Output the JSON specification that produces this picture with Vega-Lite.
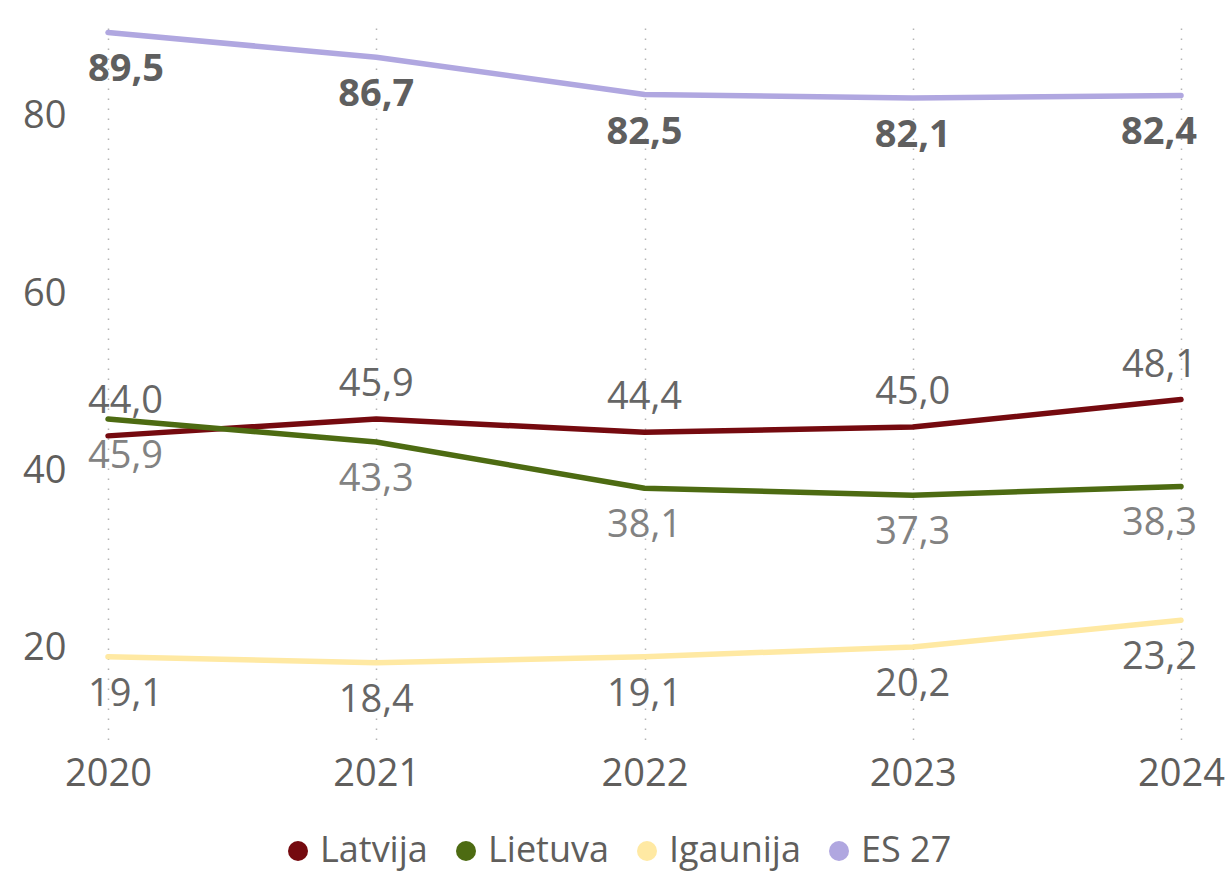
{
  "$schema": "https://vega.github.io/schema/vega-lite/v6.json",
  "width": 1073,
  "height": 712,
  "autosize": {"type": "none"},
  "padding": {"left": 108, "top": 28, "right": 45, "bottom": 136},
  "background": "white",
  "config": {
    "locale": {"number": {"decimal": ",", "thousands": " ", "grouping": [3], "currency": ["", " €"]}},
    "view": {"stroke": null},
    "font": "Open Sans"
  },
  "data": {
    "values": [
      {"year": "2020", "series": "Latvija", "value": 44.0},
      {"year": "2021", "series": "Latvija", "value": 45.9},
      {"year": "2022", "series": "Latvija", "value": 44.4},
      {"year": "2023", "series": "Latvija", "value": 45.0},
      {"year": "2024", "series": "Latvija", "value": 48.1},
      {"year": "2020", "series": "Lietuva", "value": 45.9},
      {"year": "2021", "series": "Lietuva", "value": 43.3},
      {"year": "2022", "series": "Lietuva", "value": 38.1},
      {"year": "2023", "series": "Lietuva", "value": 37.3},
      {"year": "2024", "series": "Lietuva", "value": 38.3},
      {"year": "2020", "series": "Igaunija", "value": 19.1},
      {"year": "2021", "series": "Igaunija", "value": 18.4},
      {"year": "2022", "series": "Igaunija", "value": 19.1},
      {"year": "2023", "series": "Igaunija", "value": 20.2},
      {"year": "2024", "series": "Igaunija", "value": 23.2},
      {"year": "2020", "series": "ES 27", "value": 89.5},
      {"year": "2021", "series": "ES 27", "value": 86.7},
      {"year": "2022", "series": "ES 27", "value": 82.5},
      {"year": "2023", "series": "ES 27", "value": 82.1},
      {"year": "2024", "series": "ES 27", "value": 82.4}
    ]
  },
  "encoding": {
    "x": {
      "field": "year", "type": "ordinal",
      "scale": {"type": "point", "padding": 0},
      "axis": {
        "title": null, "domain": false, "ticks": false, "labelAngle": 0,
        "labelFontSize": 38, "labelColor": "#605E5C", "labelPadding": 15,
        "labelFont": "Open Sans",
        "grid": true, "gridColor": "#B5B5B5", "gridDash": [1.5, 8.5], "gridWidth": 1.5
      }
    },
    "y": {
      "field": "value", "type": "quantitative",
      "scale": {"domain": [9.7, 90], "nice": false, "zero": false},
      "axis": {
        "title": null, "domain": false, "ticks": false, "grid": false,
        "values": [20, 40, 60, 80], "format": "d",
        "labelFontSize": 38, "labelColor": "#605E5C", "labelPadding": 42,
        "labelFont": "Open Sans"
      }
    }
  },
  "layer": [
    {
      "mark": {"type": "line", "strokeWidth": 5.5, "strokeCap": "round", "strokeJoin": "round"},
      "encoding": {
        "color": {
          "field": "series", "type": "nominal",
          "scale": {"domain": ["Latvija", "Lietuva", "Igaunija", "ES 27"], "range": ["#750A0F", "#4D6B12", "#FFE9A3", "#B0A7E0"]},
          "legend": {
            "title": null, "orient": "none", "direction": "horizontal", "columns": 4,
            "legendX": 172, "legendY": 805,
            "symbolType": "circle", "symbolSize": 400, "symbolStrokeWidth": 0, "symbolOpacity": 1,
            "labelFontSize": 36, "labelColor": "#605E5C", "labelFont": "Open Sans",
            "labelOffset": 4, "columnPadding": 20,
            "encode": {"symbols": {"update": {"fill": {"scale": "color", "field": "value"}, "fillOpacity": {"value": 1}}}}
          }
        }
      }
    },
    {
      "transform": [{"filter": "datum.series === 'ES 27' && datum.year === '2020'"}],
      "mark": {"type": "text", "baseline": "middle", "align": "left", "dx": -20, "dy": 38, "fontSize": 38, "fontWeight": "bold", "color": "#5F5F5F"},
      "encoding": {"text": {"field": "value", "type": "quantitative", "format": ".1f"}}
    },
    {
      "transform": [{"filter": "datum.series === 'ES 27' && datum.year !== '2020' && datum.year !== '2024'"}],
      "mark": {"type": "text", "baseline": "middle", "align": "center", "dy": 38, "fontSize": 38, "fontWeight": "bold", "color": "#5F5F5F"},
      "encoding": {"text": {"field": "value", "type": "quantitative", "format": ".1f"}}
    },
    {
      "transform": [{"filter": "datum.series === 'ES 27' && datum.year === '2024'"}],
      "mark": {"type": "text", "baseline": "middle", "align": "right", "dx": 16, "dy": 38, "fontSize": 38, "fontWeight": "bold", "color": "#5F5F5F"},
      "encoding": {"text": {"field": "value", "type": "quantitative", "format": ".1f"}}
    },
    {
      "transform": [{"filter": "datum.series === 'Latvija' && datum.year === '2020'"}],
      "mark": {"type": "text", "baseline": "middle", "align": "left", "dx": -20, "dy": -34, "fontSize": 38, "color": "#666666"},
      "encoding": {"text": {"field": "value", "type": "quantitative", "format": ".1f"}}
    },
    {
      "transform": [{"filter": "datum.series === 'Latvija' && datum.year !== '2020' && datum.year !== '2024'"}],
      "mark": {"type": "text", "baseline": "middle", "align": "center", "dy": -34, "fontSize": 38, "color": "#666666"},
      "encoding": {"text": {"field": "value", "type": "quantitative", "format": ".1f"}}
    },
    {
      "transform": [{"filter": "datum.series === 'Latvija' && datum.year === '2024'"}],
      "mark": {"type": "text", "baseline": "middle", "align": "right", "dx": 16, "dy": -34, "fontSize": 38, "color": "#666666"},
      "encoding": {"text": {"field": "value", "type": "quantitative", "format": ".1f"}}
    },
    {
      "transform": [{"filter": "(datum.series === 'Lietuva' || datum.series === 'Igaunija') && datum.year === '2020'"}],
      "mark": {"type": "text", "baseline": "middle", "align": "left", "dx": -20, "dy": 38, "fontSize": 38},
      "encoding": {
        "text": {"field": "value", "type": "quantitative", "format": ".1f"},
        "color": {"condition": {"test": "datum.series === 'Lietuva'", "value": "#828282"}, "value": "#666666"}
      }
    },
    {
      "transform": [{"filter": "(datum.series === 'Lietuva' || datum.series === 'Igaunija') && datum.year !== '2020' && datum.year !== '2024'"}],
      "mark": {"type": "text", "baseline": "middle", "align": "center", "dy": 38, "fontSize": 38},
      "encoding": {
        "text": {"field": "value", "type": "quantitative", "format": ".1f"},
        "color": {"condition": {"test": "datum.series === 'Lietuva'", "value": "#828282"}, "value": "#666666"}
      }
    },
    {
      "transform": [{"filter": "(datum.series === 'Lietuva' || datum.series === 'Igaunija') && datum.year === '2024'"}],
      "mark": {"type": "text", "baseline": "middle", "align": "right", "dx": 16, "dy": 38, "fontSize": 38},
      "encoding": {
        "text": {"field": "value", "type": "quantitative", "format": ".1f"},
        "color": {"condition": {"test": "datum.series === 'Lietuva'", "value": "#828282"}, "value": "#666666"}
      }
    }
  ]
}
